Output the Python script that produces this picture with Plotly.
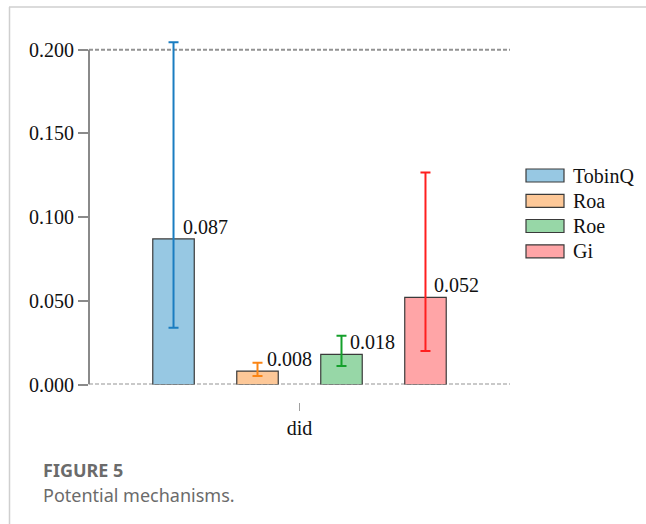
import plotly.graph_objects as go

# Coefficients of the mechanism regressions with their confidence bounds
series = ["TobinQ", "Roa", "Roe", "Gi"]
category = ["did"]
coef = [0.087, 0.008, 0.018, 0.052]
ci_low = [0.0339, 0.0051, 0.0110, 0.0200]
ci_high = [0.2045, 0.0130, 0.0291, 0.1267]
y_ticks = [0.0, 0.05, 0.10, 0.15, 0.20]

fill_colors = ["#97c8e3", "#fdc898", "#97d7a7", "#ffa5a7"]
err_colors = ["#1a7dc1", "#fb8514", "#14a02b", "#ff1f1f"]

W, H = 646, 524
L, R, T, B = 89, 136, 33, 112
plot_w = W - L - R
plot_h = H - T - B
y0_px = 384.5  # pixel row of y = 0


def px_x(px):
    return (px - L) / plot_w


def px_y(py):
    return (H - B - py) / plot_h


bargap = 0.202
bargroupgap = 0.506
serif = "Liberation Serif, Times New Roman, serif"
fsize = 20

fig = go.Figure()
for i, name in enumerate(series):
    fig.add_trace(go.Bar(
        name=name,
        x=category,
        y=[coef[i]],
        marker=dict(color=fill_colors[i], line=dict(color="#3a3a3a", width=1.2)),
        error_y=dict(
            type="data",
            symmetric=False,
            array=[ci_high[i] - coef[i]],
            arrayminus=[coef[i] - ci_low[i]],
            color=err_colors[i],
            thickness=2,
            width=5,
        ),
        showlegend=False,
    ))

# Value labels next to the top of each bar
slot = (1 - bargap) / len(series)
annotations = []
for i, name in enumerate(series):
    annotations.append(dict(
        x=(i - (len(series) - 1) / 2) * slot,
        y=coef[i],
        xref="x", yref="y",
        text=f"{coef[i]:.3f}",
        showarrow=False,
        xanchor="left", yanchor="bottom",
        xshift=7, yshift=-1,
        font=dict(family=serif, size=fsize, color="#111"),
    ))

# Legend with wide swatches
shapes = []
leg_y = [175.5, 200.8, 226.0, 251.3]
for i, name in enumerate(series):
    shapes.append(dict(
        type="rect", xref="paper", yref="paper",
        x0=px_x(526), x1=px_x(564),
        y0=px_y(leg_y[i] + 6.5), y1=px_y(leg_y[i] - 6.5),
        fillcolor=fill_colors[i], line=dict(color="#3a3a3a", width=1.2),
    ))
    annotations.append(dict(
        x=px_x(571), y=px_y(leg_y[i]), xref="paper", yref="paper",
        text=name, showarrow=False, xanchor="left", yanchor="middle",
        font=dict(family=serif, size=fsize, color="#111"),
    ))

# Dotted reference lines at the axis limits
for yv in (0.0, 0.2):
    shapes.append(dict(
        type="line", xref="paper", yref="y", x0=0, x1=1, y0=yv, y1=yv,
        line=dict(color="#939393", width=2, dash="4px,2px"), layer="below",
    ))

# Vertical axis line spanning the tick range
shapes.append(dict(
    type="line", xref="paper", yref="y", x0=0, x1=0, y0=0, y1=0.2,
    line=dict(color="#8a8a8a", width=2),
))

# Card frame
shapes.append(dict(
    type="line", xref="paper", yref="paper",
    x0=px_x(9), x1=px_x(W), y0=px_y(7), y1=px_y(7),
    line=dict(color="#cfcfcf", width=1.5),
))
shapes.append(dict(
    type="line", xref="paper", yref="paper",
    x0=px_x(9.5), x1=px_x(9.5), y0=px_y(7), y1=px_y(H),
    line=dict(color="#cfcfcf", width=1.5),
))

# Caption
annotations.append(dict(
    x=px_x(41), y=px_y(470), xref="paper", yref="paper",
    text="<b>FIGURE 5</b>", showarrow=False, xanchor="left", yanchor="middle",
    font=dict(family="Noto Sans, sans-serif", size=18, color="#6b6b6b"),
))
annotations.append(dict(
    x=px_x(41), y=px_y(495), xref="paper", yref="paper",
    text="Potential mechanisms.", showarrow=False, xanchor="left", yanchor="middle",
    font=dict(family="Noto Sans, sans-serif", size=18, color="#6b6b6b"),
))

fig.update_layout(
    width=W, height=H,
    margin=dict(l=L, r=R, t=T, b=B, pad=0),
    paper_bgcolor="white",
    plot_bgcolor="white",
    barmode="group",
    bargap=bargap,
    bargroupgap=bargroupgap,
    shapes=shapes,
    annotations=annotations,
    xaxis=dict(
        type="category",
        range=[-0.5, 0.5],
        anchor="free",
        position=px_y(402),
        showline=False, showgrid=False, zeroline=False,
        ticks="outside", ticklen=8, tickwidth=1, tickcolor="#a0a0a0",
        tickfont=dict(family=serif, size=fsize, color="#111"),
    ),
    yaxis=dict(
        domain=[px_y(y0_px), 1],
        range=[0, 0.21],
        tickvals=y_ticks,
        tickformat=".3f",
        showline=False, showgrid=False, zeroline=False,
        ticks="outside", ticklen=10, tickwidth=2, tickcolor="#8a8a8a",
        tickfont=dict(family=serif, size=fsize, color="#111"),
    ),
)

fig.write_html("out.html")
